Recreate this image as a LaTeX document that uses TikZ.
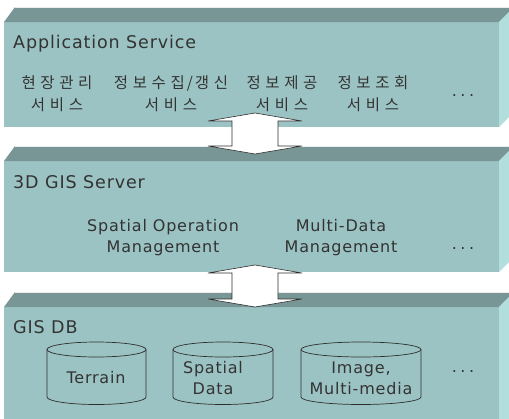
\documentclass[tikz,border=0pt]{standalone}
\usepackage{fontspec}
\setmainfont{DejaVu Sans}[LetterSpace=5]
\newfontfamily\krfont{Noto Sans CJK KR}[LetterSpace=30]
\usetikzlibrary{calc}

\definecolor{facefront}{HTML}{9CC3C3}
\definecolor{facetop}{HTML}{789696}
\definecolor{faceside}{HTML}{B3DEDE}
\definecolor{inkgray}{HTML}{333333}
\definecolor{edgegray}{HTML}{2E2E2E}

\newcommand\moredots{.\kern3.6pt.\kern3.6pt.}

\begin{document}
\begin{tikzpicture}[x=1pt,y=-1pt,
  title/.style={anchor=base west,inner sep=0pt,text=inkgray,font=\fontsize{17.5}{21}\selectfont},
  item/.style={inner sep=0pt,align=center,text=inkgray,font=\fontsize{16}{21}\selectfont},
  kitem/.style={inner sep=0pt,align=center,text=inkgray,font=\krfont\fontsize{15.5}{22}\selectfont},
  more/.style={anchor=base,inner sep=0pt,text=inkgray,font=\fontsize{16}{20}\selectfont},
  cylline/.style={draw=edgegray,line width=0.7pt},
  bigarrow/.style={draw=edgegray,fill=white,line width=0.6pt,line join=miter}]
\useasboundingbox (0,0) rectangle (509,418);
\clip (0,0) rectangle (509,418);

% a slab: front face, slanted top face and right side face
% #1 = front top y, #2 = bottom y
\newcommand\slab[2]{%
  \fill[facefront] (4,#1) rectangle (499,#2);
  \fill[facetop] (4,#1) -- (15,#1-15) -- (514,#1-15) -- (499,#1) -- cycle;
  \fill[faceside] (499,#1) -- (514,#1-15) -- (514,#2-15) -- (499,#2) -- cycle;
  \draw[white!85!gray,line width=0.6pt] (15,#1-15) -- (514,#1-15);
}
\slab{22}{127}
\slab{161}{272}
\slab{307}{430}

% layer titles
\node[title] (app)    at (13,48)  {Application Service};
\node[title] (server) at (13,188) {3D GIS Server};
\node[title] (db)     at (13,333) {GIS DB};

% application services
\node[kitem] (svc1) at (57,93.5)  {현장관리\\서비스};
\node[kitem] (svc2) at (171,93.5) {정보수집\kern2pt/\kern2pt갱신\\서비스};
\node[kitem] (svc3) at (282,93.5) {정보제공\\서비스};
\node[kitem] (svc4) at (373,93.5) {정보조회\\서비스};
\node[more]  (svcmore) at (463,96) {\moredots};

% server modules
\node[item] (spop)  at (163,238) {Spatial Operation\\Management};
\node[item] (mdata) at (341,238) {Multi-Data\\Management};
\node[more] (srvmore) at (463,249) {\moredots};

% database cylinders: #1 name, #2 left x, #3 right x
\newcommand\dbcyl[3]{%
  \coordinate (#1) at ({(#2+#3)/2},373);
  \fill[facefront] (#2,349.5) -- (#2,397) arc[start angle=180,end angle=0,x radius={(#3-#2)/2},y radius=7.5] -- (#3,349.5) -- cycle;
  \draw[cylline] (#2,349.5) -- (#2,397) arc[start angle=180,end angle=0,x radius={(#3-#2)/2},y radius=7.5] -- (#3,349.5);
  \draw[cylline] ({(#2+#3)/2},349.5) ellipse[x radius={(#3-#2)/2},y radius=7.5];
}
\dbcyl{terrain}{47}{146}
\dbcyl{spatial}{173}{273}
\dbcyl{image}{301}{421}
\node[item] (terraintxt) at (96,377.5) {Terrain};
\node[item] (spatialtxt) at (213,378.5) {Spatial\\Data};
\node[item] (imagetxt)   at (361,378.5) {Image,\\Multi-media};
\node[more] (dbmore) at (463,372) {\moredots};

% double arrows between the layers
\coordinate (upA)   at (255,113);
\coordinate (downA) at (255,154);
\coordinate (upB)   at (255,265);
\coordinate (downB) at (255,307);
\newcommand\dblarrow[2]{%
  \draw[bigarrow] (#1)
    -- ($(#1)+(47,8)$) -- ($(#1)+(23,8)$)
    -- ($(#2)+(23,-8)$) -- ($(#2)+(47,-8)$)
    -- (#2)
    -- ($(#2)+(-47,-8)$) -- ($(#2)+(-23,-8)$)
    -- ($(#1)+(-23,8)$) -- ($(#1)+(-47,8)$) -- cycle;
}
\dblarrow{upA}{downA}
\dblarrow{upB}{downB}
\end{tikzpicture}
\end{document}
